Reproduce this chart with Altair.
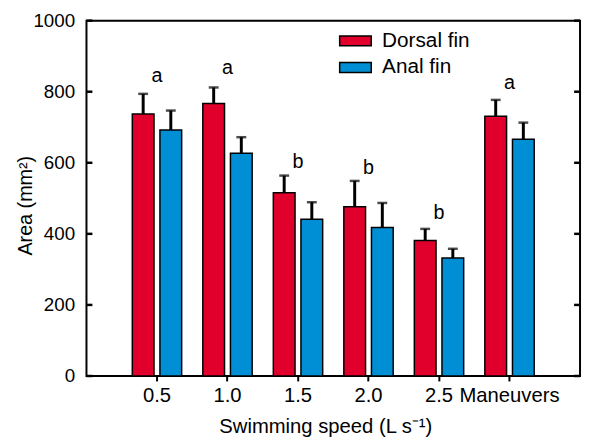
import altair as alt
import pandas as pd

categories = ["0.5", "1.0", "1.5", "2.0", "2.5", "Maneuvers"]
series = ["Dorsal fin", "Anal fin"]
dorsal_mean = [737, 767, 516, 476, 381, 731]
dorsal_top = [794, 812, 564, 549, 414, 777]
anal_mean = [692, 627, 441, 418, 332, 666]
anal_top = [747, 672, 489, 487, 358, 713]
letters = ["a", "a", "b", "b", "b", "a"]
letter_y = [826, 849, 585, 569, 442, 807]
y_ticks = [0, 200, 400, 600, 800, 1000]

RED = "#E0002B"
BLUE = "#008FD5"
FONT = "Liberation Sans"

rows = []
for i, c in enumerate(categories):
    rows.append({"cat": c, "series": series[0], "value": dorsal_mean[i], "top": dorsal_top[i]})
    rows.append({"cat": c, "series": series[1], "value": anal_mean[i], "top": anal_top[i]})
bars_df = pd.DataFrame(rows)
letters_df = pd.DataFrame({"cat": categories, "letter": letters, "ly": letter_y})
ticks_df = pd.DataFrame({"t": y_ticks})

x_enc = alt.X(
    "cat:N",
    sort=categories,
    scale=alt.Scale(paddingInner=0.3, paddingOuter=0.65),
    axis=alt.Axis(
        title="Swimming speed (L s\u207b\u00b9)",
        labelAngle=0,
        labelFontSize=20.5,
        labelFont=FONT,
        labelColor="black",
        labelPadding=5,
        tickSize=5,
        tickWidth=2,
        tickColor="black",
        domain=False,
        titleFontSize=20.5,
        titleFont=FONT,
        titleFontWeight="normal",
        titleColor="black",
        titleX=242,
        titleY=41,
        titleBaseline="top",
    ),
)
y_scale = alt.Scale(domain=[0, 1000], nice=False)
y_axis = alt.Axis(
    title="Area (mm\u00b2)",
    values=y_ticks,
    format="d",
    ticks=False,
    tickSize=0,
    domain=False,
    grid=False,
    labelFontSize=19,
    labelFont=FONT,
    labelColor="black",
    labelPadding=12,
    titleFontSize=20,
    titleFont=FONT,
    titleFontWeight="normal",
    titleColor="black",
    titleX=-62,
    titleY=187,
    titleBaseline="middle",
)
xoff = alt.XOffset("series:N", sort=series, scale=alt.Scale(paddingInner=0.214, paddingOuter=0))

bars = alt.Chart(bars_df).mark_bar(stroke="black", strokeWidth=1.5).encode(
    x=x_enc,
    xOffset=xoff,
    y=alt.Y("value:Q", scale=y_scale, axis=y_axis),
    color=alt.Color(
        "series:N",
        sort=series,
        scale=alt.Scale(domain=series, range=[RED, BLUE]),
        legend=alt.Legend(
            title=None,
            orient="none",
            legendX=261.5,
            legendY=9.5,
            symbolType="M-1.6,-0.5H1.6V0.5H-1.6Z",
            symbolSize=400,
            symbolStrokeColor="black",
            symbolStrokeWidth=1.5,
            symbolOpacity=1,
            labelFontSize=21,
            labelFont=FONT,
            labelColor="black",
            labelOffset=16,
            rowPadding=6,
        ),
    ),
)

err = alt.Chart(bars_df).mark_rule(color="black", strokeWidth=3).encode(
    x=alt.X("cat:N", sort=categories),
    xOffset=xoff,
    y=alt.Y("value:Q", scale=y_scale),
    y2="top:Q",
)
caps = alt.Chart(bars_df).mark_tick(color="black", orient="horizontal", size=10, thickness=2.5).encode(
    x=alt.X("cat:N", sort=categories),
    xOffset=xoff,
    y=alt.Y("top:Q", scale=y_scale),
)
text = alt.Chart(letters_df).mark_text(fontSize=20, font=FONT, color="black", baseline="alphabetic").encode(
    x=alt.X("cat:N", sort=categories),
    y=alt.Y("ly:Q", scale=y_scale),
    text="letter:N",
)
lticks = alt.Chart(ticks_df).mark_rule(color="black", strokeWidth=2.5).encode(
    x=alt.value(0), x2=alt.value(6), y=alt.Y("t:Q", scale=y_scale)
)
rticks = alt.Chart(ticks_df).mark_rule(color="black", strokeWidth=2.5).encode(
    x=alt.value(494), x2=alt.value(500), y=alt.Y("t:Q", scale=y_scale)
)

chart = (
    alt.layer(bars, err, caps, text, lticks, rticks)
    .properties(
        width=500,
        height=360,
        padding={"left": 79.5, "top": 10, "right": 2, "bottom": 60},
        autosize=alt.AutoSizeParams(type="none"),
        background="white",
    )
    .configure_view(stroke="black", strokeWidth=2)
)

chart.save("out.html", embed_options={"renderer": "svg", "actions": False})
